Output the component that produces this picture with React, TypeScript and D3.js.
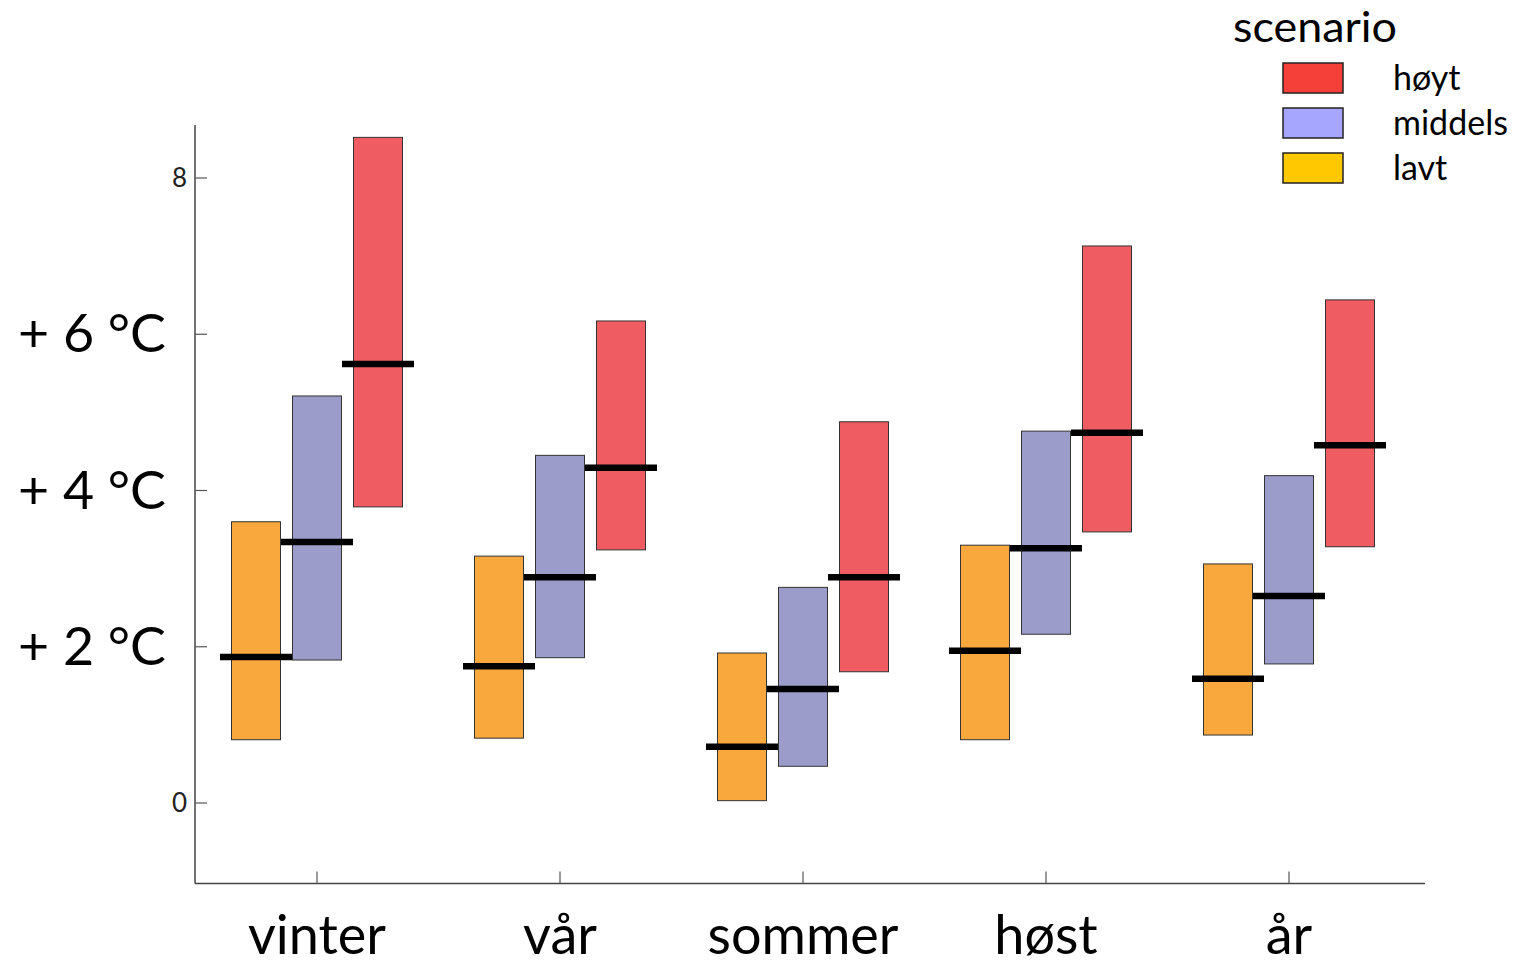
import React from "react";
import * as d3 from "d3";

const seasons = ["vinter", "vår", "sommer", "høst", "år"];
const scenarios = ["lavt", "middels", "høyt"];
const legendOrder = ["høyt", "middels", "lavt"];

const lavtLow = [0.81, 0.83, 0.03, 0.81, 0.87];
const lavtHigh = [3.6, 3.16, 1.92, 3.3, 3.06];
const lavtMed = [1.87, 1.75, 0.72, 1.95, 1.59];

const middelsLow = [1.83, 1.86, 0.47, 2.16, 1.78];
const middelsHigh = [5.21, 4.45, 2.76, 4.76, 4.19];
const middelsMed = [3.34, 2.89, 1.46, 3.26, 2.65];

const hoytLow = [3.79, 3.24, 1.68, 3.47, 3.28];
const hoytHigh = [8.52, 6.17, 4.88, 7.13, 6.44];
const hoytMed = [5.62, 4.29, 2.89, 4.74, 4.58];

const yTicks = [0, 2, 4, 6, 8];
const yNumLabels = [0, 8];
const yDegLabels = [2, 4, 6];

const barColors: Record<string, string> = { lavt: "#F8A83C", middels: "#9B9CCA", høyt: "#EF5C61" };
const legendColors: Record<string, string> = { høyt: "#F5403A", middels: "#A6A6FF", lavt: "#FFC800" };

const series: Record<string, { low: number[]; high: number[]; med: number[] }> = {
  lavt: { low: lavtLow, high: lavtHigh, med: lavtMed },
  middels: { low: middelsLow, high: middelsHigh, med: middelsMed },
  høyt: { low: hoytLow, high: hoytHigh, med: hoytMed },
};

export default function App() {
  const W = 1517, H = 970;
  const y = d3.scaleLinear().domain([0, 8]).range([803, 178]);
  const x = d3.scalePoint<string>().domain(seasons).range([317, 1289]);
  const off = d3.scalePoint<string>().domain(scenarios).range([-61, 61]);
  const barW = 49;
  const medW = 72;
  const axisX = 195;
  const axisBottom = y(-1.03);
  const axisTop = 125;
  const font = "Lato, 'Open Sans', sans-serif";

  return (
    <svg width={W} height={H} style={{ position: "absolute", left: 0, top: 0, background: "#fff" }}>
      {/* axes */}
      <line x1={axisX} x2={axisX} y1={axisTop} y2={axisBottom} stroke="#444" strokeWidth={1.5} />
      <line x1={axisX} x2={1425} y1={axisBottom} y2={axisBottom} stroke="#444" strokeWidth={1.5} />
      {yTicks.map((t) => (
        <line key={"yt" + t} x1={axisX} x2={axisX + 12} y1={y(t)} y2={y(t)} stroke="#555" strokeWidth={1.2} />
      ))}
      {seasons.map((s) => (
        <line key={"xt" + s} x1={x(s)} x2={x(s)} y1={axisBottom} y2={axisBottom - 12} stroke="#555" strokeWidth={1.2} />
      ))}
      {yNumLabels.map((t) => (
        <text key={"yl" + t} x={187} y={y(t)} dy="0.35em" textAnchor="end" fontFamily={font} fontSize={26} fill="#222">
          {t}
        </text>
      ))}
      {yDegLabels.map((t) => (
        <text key={"yd" + t} x={18} y={y(t) + 18} fontFamily={font} fontSize={52} fill="#000" textLength={148} lengthAdjust="spacingAndGlyphs">
          {`+ ${t} °C`}
        </text>
      ))}
      {seasons.map((s) => (
        <text key={"xl" + s} x={x(s)} y={954} textAnchor="middle" fontFamily={font} fontSize={54} fill="#000">
          {s}
        </text>
      ))}

      {/* bars */}
      {scenarios.map((sc) =>
        seasons.map((s, i) => {
          const cx = (x(s) as number) + (off(sc) as number);
          const d = series[sc];
          return (
            <rect
              key={sc + s}
              x={cx - barW / 2}
              y={y(d.high[i])}
              width={barW}
              height={y(d.low[i]) - y(d.high[i])}
              fill={barColors[sc]}
              stroke="#333"
              strokeWidth={1}
            />
          );
        })
      )}
      {scenarios.map((sc) =>
        seasons.map((s, i) => {
          const cx = (x(s) as number) + (off(sc) as number);
          const d = series[sc];
          return (
            <line
              key={"m" + sc + s}
              x1={cx - medW / 2}
              x2={cx + medW / 2}
              y1={y(d.med[i])}
              y2={y(d.med[i])}
              stroke="#000"
              strokeWidth={6.5}
            />
          );
        })
      )}

      {/* legend */}
      <text x={1233} y={42} fontFamily={font} fontSize={42} fill="#000" textLength={164} lengthAdjust="spacingAndGlyphs">scenario</text>
      {legendOrder.map((sc, i) => (
        <g key={"lg" + sc}>
          <rect x={1283} y={63 + i * 45} width={60} height={30} fill={legendColors[sc]} stroke="#222" strokeWidth={1.5} />
          <text x={1393} y={78 + i * 45} dy="0.35em" fontFamily={font} fontSize={34} fill="#000">{sc}</text>
        </g>
      ))}
    </svg>
  );
}
